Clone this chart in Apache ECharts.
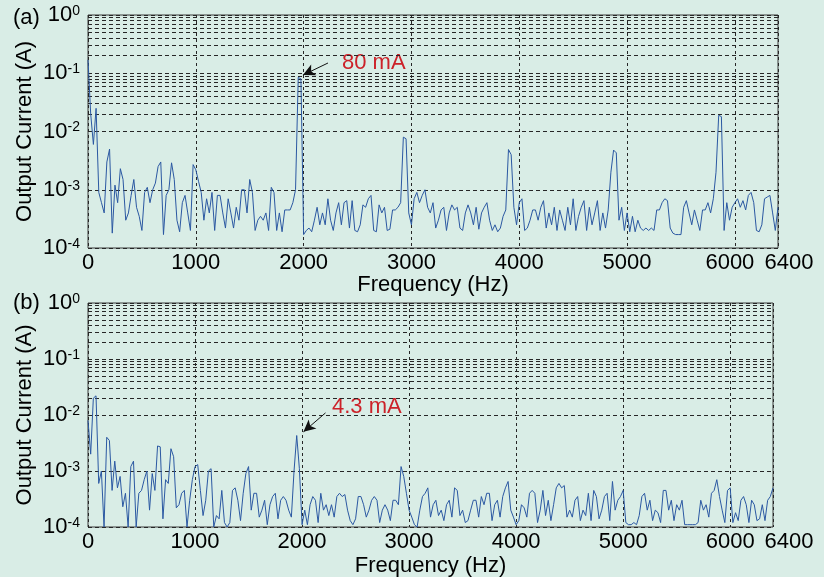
<!DOCTYPE html>
<html>
<head>
<meta charset="utf-8">
<title>Output current spectrum</title>
<script src="https://cdn.jsdelivr.net/npm/echarts@6/dist/echarts.min.js"></script>
<style>
    html, body { margin: 0; padding: 0; background: #d9ede6; }
    #chart { width: 824px; height: 577px; }
</style>
</head>
<body>
<div id="chart"></div>
<script>
// 频谱数据：每 25 Hz 一个点，单位 A
const FREQ_STEP = 25;

const currentA = [
    0.17, 0.02, 0.006, 0.025, 9e-4, 6e-4, 4e-4, 3e-3,
    5e-3, 1.8e-4, 1.2e-3, 6e-4, 2.3e-3, 1.5e-3, 3e-4, 4e-4,
    8e-4, 1.5e-3, 5e-4, 3.5e-4, 2e-4, 9e-4, 1.1e-3, 6e-4,
    1e-3, 1.3e-3, 2.5e-3, 3e-3, 1.7e-4, 8e-4, 1e-3, 2.9e-3,
    1.5e-3, 3e-4, 1.9e-4, 6e-4, 8e-4, 4e-4, 2e-4, 2.7e-3,
    2.2e-3, 1.4e-3, 9e-4, 3e-4, 7e-4, 4e-4, 9e-4, 2e-4,
    8e-4, 8e-4, 4e-4, 2.2e-4, 7e-4, 4e-4, 2.2e-4, 5e-4,
    3e-4, 1e-3, 1e-3, 4e-4, 1.5e-3, 9e-4, 2e-4, 3e-4,
    3.5e-4, 3e-4, 4e-4, 2e-4, 1.1e-3, 9e-4, 2e-4, 4e-4,
    1.9e-4, 4.5e-4, 4.5e-4, 4.5e-4, 6e-4, 1e-3, 0.085, 0.08,
    1.7e-4, 2e-4, 2.2e-4, 1.9e-4, 3e-4, 5e-4, 2.5e-4, 4e-4,
    2.5e-4, 7e-4, 3e-4, 2e-4, 4e-4, 6e-4, 2.5e-4, 6e-4,
    6.5e-4, 2.2e-4, 6.5e-4, 2e-4, 1.9e-4, 2.5e-4, 5.5e-4, 5e-4,
    7e-4, 8e-4, 2e-4, 1.9e-4, 5.5e-4, 4e-4, 5e-4, 2e-4,
    2.1e-4, 4.5e-4, 4.5e-4, 5e-4, 6e-4, 8e-3, 7.5e-3, 4e-4,
    2.5e-4, 7e-4, 9e-4, 6e-4, 8e-4, 1e-3, 5e-4, 4e-4,
    6e-4, 2.2e-4, 3e-4, 4.5e-4, 5e-4, 2e-4, 4e-4, 5.5e-4,
    4.5e-4, 5e-4, 2.2e-4, 2e-4, 4e-4, 5.5e-4, 4e-4, 2.5e-4,
    5e-4, 2.1e-4, 4e-4, 5e-4, 6e-4, 3e-4, 2e-4, 2.5e-4,
    1.9e-4, 2.2e-4, 3.5e-4, 4.5e-4, 4.9e-3, 4e-3, 5e-4, 2.5e-4,
    6e-4, 7e-4, 2e-4, 2.2e-4, 3e-4, 4.5e-4, 4.5e-4, 3e-4,
    5e-4, 6.5e-4, 2.2e-4, 4e-4, 2.5e-4, 5e-4, 2e-4, 4.5e-4,
    3e-4, 2e-4, 5e-4, 2.5e-4, 7e-4, 2e-4, 3.5e-4, 5e-4,
    6.5e-4, 2e-4, 5e-4, 2.5e-4, 4e-4, 6.5e-4, 2e-4, 4e-4,
    2.2e-4, 4.5e-4, 2e-3, 4.8e-3, 4.3e-3, 3e-4, 5e-4, 2e-4,
    4e-4, 1.9e-4, 3.5e-4, 1.9e-4, 3e-4, 2.2e-4, 2e-4, 2.2e-4,
    2e-4, 2.2e-4, 2e-4, 4.5e-4, 4.5e-4, 6e-4, 7e-4, 6.5e-4,
    2.2e-4, 1.8e-4, 1.7e-4, 1.7e-4, 1.7e-4, 5e-4, 6.5e-4, 4e-4,
    2.5e-4, 4.5e-4, 3e-4, 2e-4, 4.5e-4, 4.5e-4, 6e-4, 4e-4,
    7e-4, 2e-3, 0.019, 0.018, 2e-4, 6e-4, 3e-4, 5e-4,
    6e-4, 7e-4, 5e-4, 6.5e-4, 4.5e-4, 8e-4, 9e-4, 6e-4,
    2e-4, 1.9e-4, 2.5e-4, 7e-4, 7.5e-4, 8e-4, 4e-4, 2e-4,
    5e-4
];

const currentB = [
    0.008, 0.002, 0.02, 0.022, 6e-4, 1e-3, 1e-4, 4e-3,
    3.5e-3, 4.5e-4, 1.5e-3, 5e-4, 8e-4, 2.3e-4, 4e-4, 1e-4,
    1.2e-3, 1.5e-3, 1e-4, 4e-4, 4.5e-4, 7e-4, 1e-3, 2e-4,
    9e-4, 4.5e-4, 2.8e-3, 2.7e-3, 1.4e-4, 7e-4, 6e-4, 2.5e-3,
    1.8e-3, 2.2e-4, 2.5e-4, 4e-4, 4.5e-4, 1e-4, 3e-4, 7e-4,
    1.2e-3, 1.3e-3, 4.5e-4, 1.6e-4, 3e-4, 1e-3, 1.1e-3, 1e-4,
    1.6e-4, 1.4e-4, 4.5e-4, 1.2e-4, 1e-4, 1.2e-4, 4.5e-4, 5e-4,
    3e-4, 1.3e-4, 4e-4, 9e-4, 1.2e-3, 2e-4, 4e-4, 4e-4,
    1.5e-4, 2e-4, 3e-4, 1.1e-4, 2.5e-4, 3.5e-4, 4e-4, 1.4e-4,
    3e-4, 3.5e-4, 3e-4, 2e-4, 1.5e-4, 1e-3, 4.3e-3, 1.1e-3,
    1.1e-4, 2e-4, 1.1e-4, 2.5e-4, 3.5e-4, 3e-4, 1.2e-4, 4e-4,
    2e-4, 2.5e-4, 1.6e-4, 2.5e-4, 1.5e-4, 3.5e-4, 4e-4, 3.5e-4,
    3.8e-4, 2e-4, 1.3e-4, 1.1e-4, 1.4e-4, 3.5e-4, 3.5e-4, 2.5e-4,
    1.5e-4, 2e-4, 3e-4, 3.5e-4, 3e-4, 1.2e-4, 2e-4, 2.5e-4,
    2e-4, 1.3e-4, 3e-4, 3e-4, 2.5e-4, 1.2e-3, 8e-4, 4e-4,
    2e-4, 1.5e-4, 1.1e-4, 1e-4, 2e-4, 3.5e-4, 4e-4, 5e-4,
    1.5e-4, 2.5e-4, 3e-4, 1.6e-4, 2e-4, 1.3e-4, 2.5e-4, 3e-4,
    1.5e-4, 5e-4, 4.5e-4, 1.6e-4, 2e-4, 1.2e-4, 1.3e-4, 2e-4,
    3e-4, 3e-4, 1.5e-4, 3.5e-4, 2.5e-4, 4e-4, 4e-4, 1.3e-4,
    2.5e-4, 3e-4, 1.5e-4, 3.5e-4, 5e-4, 6.5e-4, 2e-4, 1.5e-4,
    1.1e-4, 1.3e-4, 2.5e-4, 2.2e-4, 1.5e-4, 4e-4, 4.5e-4, 4e-4,
    1.2e-4, 2e-4, 4.5e-4, 1.6e-4, 3e-4, 1.3e-4, 2.5e-4, 5e-4,
    6e-4, 5e-4, 5.5e-4, 1.5e-4, 2e-4, 1.5e-4, 3e-4, 3.5e-4,
    1.3e-4, 2e-4, 1.6e-4, 4e-4, 1.3e-4, 4.5e-4, 3.5e-4, 1.4e-4,
    2e-4, 3.5e-4, 4e-4, 1.3e-4, 6.5e-4, 2e-4, 3e-4, 3.5e-4,
    4.5e-4, 1.2e-4, 1.1e-4, 1.1e-4, 1.2e-4, 1.1e-4, 1.6e-4, 3.5e-4,
    4e-4, 2e-4, 3e-4, 1.3e-4, 2e-4, 1.8e-4, 1.2e-4, 4.5e-4,
    4.5e-4, 2e-4, 3e-4, 1.3e-4, 2.5e-4, 2e-4, 3e-4, 1.1e-4,
    1.1e-4, 1.1e-4, 1.1e-4, 1.1e-4, 1.2e-4, 3e-4, 2e-4, 2.5e-4,
    1.5e-4, 4e-4, 4.5e-4, 7e-4, 3.5e-4, 2e-4, 1.2e-4, 4.5e-4,
    5e-4, 1.2e-4, 1.8e-4, 1.3e-4, 3e-4, 3.5e-4, 2.5e-4, 1.2e-4,
    3e-4, 2.5e-4, 1.3e-4, 1.4e-4, 2.5e-4, 1.3e-4, 3e-4, 3.5e-4,
    5e-4
];

// 标注：箭头起点/终点 (Hz, A)
const noteA = { text: '80 mA', from: [2226, 0.15], to: [1994, 0.093] };
const noteB = { text: '4.3 mA', from: [2219, 0.0109], to: [2013, 0.005] };

// 对数网格的次刻度
const minorMultipliers = [2, 3, 4, 5, 6, 7, 8, 9];
const decades = [1e-4, 1e-3, 1e-2, 1e-1];

const FONT = '"Liberation Sans", Arial, Helvetica, sans-serif';
const GRID_COLOR = '#262626';

const chart = echarts.init(document.getElementById('chart'), null, { renderer: 'canvas' });

function toPairs(values) {
    return values.map((v, i) => [i * FREQ_STEP, v]);
}

function minorGridLines() {
    const data = [];
    decades.forEach(d => {
        minorMultipliers.forEach(m => data.push({ yAxis: +(m * d).toPrecision(3) }));
    });
    return data;
}

function xAxisOf(gridIndex, shift6000, shift6400, nameGap) {
    return {
        type: 'value',
        gridIndex: gridIndex,
        min: 0,
        max: 6400,
        interval: 1000,
        name: 'Frequency (Hz)',
        nameLocation: 'middle',
        nameGap: nameGap,
        nameMoveOverlap: false,
        nameTextStyle: { color: '#000', fontSize: 22, fontFamily: FONT },
        axisLine: { show: false },
        axisTick: { show: false },
        axisLabel: {
            show: true,
            showMaxLabel: true,
            showMinLabel: true,
            margin: 4,
            color: '#000',
            fontSize: 22,
            fontFamily: FONT,
            formatter: function (v) {
                if (v === 6400) return '{r|6400}';
                if (v === 6000) return '{l|6000}';
                return String(v);
            },
            rich: {
                r: { fontSize: 22, fontFamily: FONT, color: '#000', padding: [0, 0, 0, shift6400] },
                l: { fontSize: 22, fontFamily: FONT, color: '#000', padding: [0, shift6000, 0, 0] }
            }
        },
        splitLine: {
            show: true,
            lineStyle: { color: GRID_COLOR, width: 1, type: [3, 3] }
        }
    };
}

function yAxisOf(gridIndex) {
    return {
        type: 'log',
        logBase: 10,
        gridIndex: gridIndex,
        min: 1e-4,
        max: 1,
        splitNumber: 4,
        name: 'Output Current (A)',
        nameLocation: 'middle',
        nameGap: 52,
        nameMoveOverlap: false,
        nameTextStyle: { color: '#000', fontSize: 22, fontFamily: FONT },
        axisLine: { show: false },
        axisTick: { show: false },
        minorTick: { show: false },
        axisLabel: {
            margin: 8,
            formatter: function (v) {
                const e = Math.round(Math.log10(v));
                return '{b|10}{s|' + e + '}';
            },
            rich: {
                b: { fontSize: 22, fontFamily: FONT, color: '#000', lineHeight: 22, padding: [6, 0, 0, 0], verticalAlign: 'bottom' },
                s: { fontSize: 14, fontFamily: FONT, color: '#000', lineHeight: 18, verticalAlign: 'top' }
            }
        },
        splitLine: {
            show: true,
            lineStyle: { color: GRID_COLOR, width: 1, type: [4, 3] }
        }
    };
}

function spectrumSeries(index, values, note) {
    return {
        type: 'line',
        xAxisIndex: index,
        yAxisIndex: index,
        data: toPairs(values),
        showSymbol: false,
        symbol: 'none',
        z: 3,
        lineStyle: { color: '#2b58a2', width: 1 },
        emphasis: { disabled: true },
        markLine: {
            silent: true,
            z: 6,
            animation: false,
            label: { show: false },
            lineStyle: { color: '#111', width: 1, type: 'solid' },
            data: [[
                { coord: note.from, symbol: 'none' },
                { coord: note.to, symbol: 'arrow', symbolSize: [9, 12] }
            ]]
        }
    };
}

function gridSeries(index) {
    return {
        type: 'line',
        xAxisIndex: index,
        yAxisIndex: index,
        data: [],
        z: 1,
        markLine: {
            silent: true,
            z: 1,
            animation: false,
            symbol: 'none',
            label: { show: false },
            lineStyle: { color: GRID_COLOR, width: 1, type: [4, 3] },
            data: minorGridLines()
        }
    };
}

const option = {
    backgroundColor: '#d9ede6',
    animation: false,
    textStyle: { fontFamily: FONT },
    grid: [
        { left: 88, right: 46, top: 15, height: 233, show: true, borderColor: '#3a3a3a', borderWidth: 1, outerBoundsMode: 'none' },
        { left: 88, right: 51, top: 303, height: 224, show: true, borderColor: '#3a3a3a', borderWidth: 1, outerBoundsMode: 'none' }
    ],
    xAxis: [xAxisOf(0, 10, 22, 26), xAxisOf(1, 0, 32, 28)],
    yAxis: [yAxisOf(0), yAxisOf(1)],
    series: [
        gridSeries(0),
        gridSeries(1),
        spectrumSeries(0, currentA, noteA),
        spectrumSeries(1, currentB, noteB)
    ],
    graphic: [
        { type: 'text', left: 13, top: 7, style: { text: '(a)', fontSize: 22, fontFamily: FONT, fill: '#000' } },
        { type: 'text', left: 13, top: 292, style: { text: '(b)', fontSize: 22, fontFamily: FONT, fill: '#000' } },
        { type: 'text', left: 342, top: 52, style: { text: noteA.text, fontSize: 22, fontFamily: FONT, fill: '#cc2229' } },
        { type: 'text', left: 332, top: 396, style: { text: noteB.text, fontSize: 22, fontFamily: FONT, fill: '#cc2229' } }
    ]
};

chart.setOption(option);

window.addEventListener('resize', () => {
    chart.resize();
});
</script>
</body>
</html>
